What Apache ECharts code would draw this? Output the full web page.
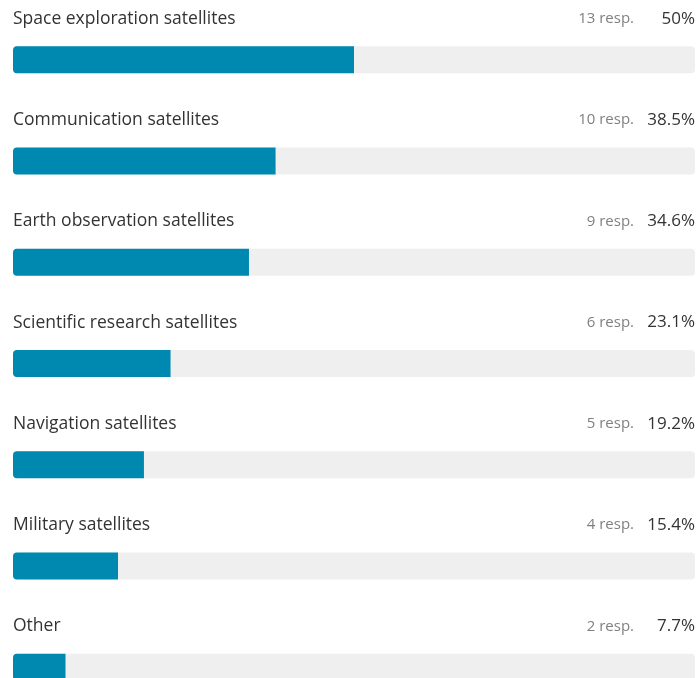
<!DOCTYPE html>
<html>
<head>
<meta charset="utf-8">
<script src="https://cdn.jsdelivr.net/npm/echarts@6/dist/echarts.min.js"></script>
<style>
  html, body { margin: 0; padding: 0; background: #ffffff; overflow: hidden; }
  /* the list is taller than the viewport; the last row runs past the bottom edge */
  #chart { width: 698px; height: 718px; }
</style>
</head>
<body>
<div id="chart"></div>
<script>
// Survey answers: satellite types of interest
const categories = [
  'Space exploration satellites',
  'Communication satellites',
  'Earth observation satellites',
  'Scientific research satellites',
  'Navigation satellites',
  'Military satellites',
  'Other'
];
const responses = [13, 10, 9, 6, 5, 4, 2];
const percents = [50, 38.5, 34.6, 23.1, 19.2, 15.4, 7.7];

const FONT = '"Open Sans", "Noto Sans", sans-serif';
const chart = echarts.init(document.getElementById('chart'));

chart.setOption({
  animation: false,
  grid: { left: 13, right: 3, top: 9.2, bottom: 0, containLabel: false },
  xAxis: { type: 'value', min: 0, max: 100, show: false },
  yAxis: { type: 'category', data: categories, inverse: true, show: false },
  series: [
    {
      // full-width track with response count and share on the right
      type: 'bar',
      barWidth: 27,
      silent: true,
      data: categories.map(() => 100),
      itemStyle: { color: '#efefef', borderRadius: 4 },
      label: {
        show: true,
        position: ['100%', 0],
        align: 'right',
        verticalAlign: 'middle',
        offset: [0, -27.5],
        formatter: (p) => '{r|' + responses[p.dataIndex] + ' resp.}{p|' + percents[p.dataIndex] + '%}',
        rich: {
          r: { fontFamily: FONT, fontSize: 15, color: '#808080' },
          p: { fontFamily: FONT, fontSize: 17, color: '#333333', width: 61, align: 'right' }
        }
      }
    },
    {
      // filled share, category name above
      type: 'bar',
      barWidth: 27,
      barGap: '-100%',
      data: percents,
      itemStyle: { color: '#0089b0', borderRadius: [4, 0, 0, 4] },
      label: {
        show: true,
        position: [0, 0],
        align: 'left',
        verticalAlign: 'middle',
        offset: [0, -27.5],
        formatter: (p) => categories[p.dataIndex],
        fontFamily: FONT,
        fontSize: 17.5,
        color: '#333333'
      }
    }
  ]
});
</script>
</body>
</html>
